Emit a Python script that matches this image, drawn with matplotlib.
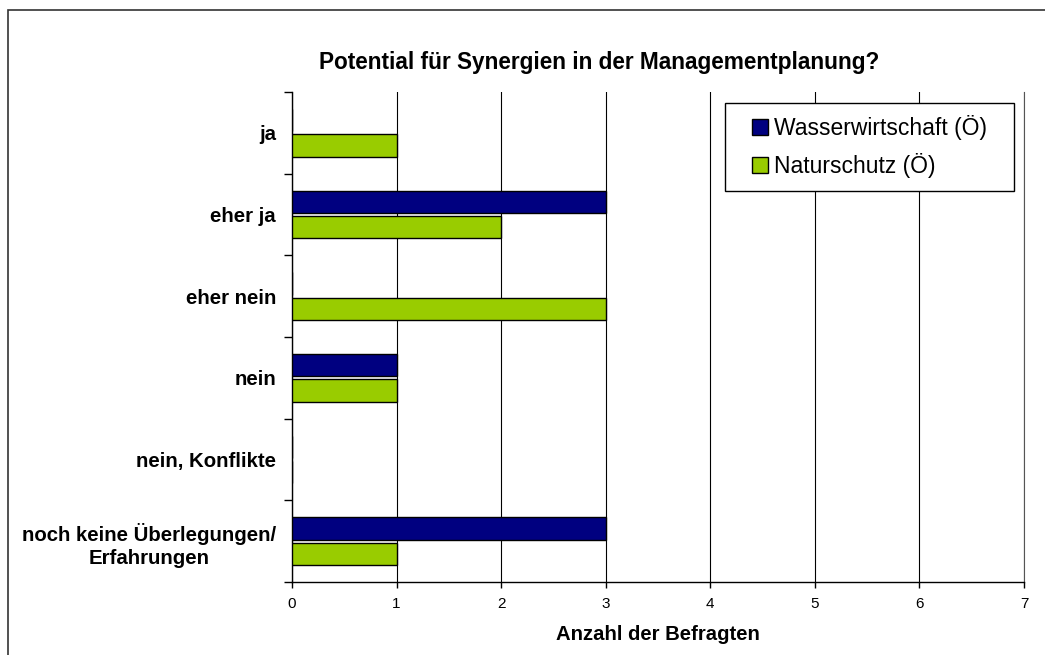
import matplotlib
matplotlib.use("Agg")
import matplotlib.pyplot as plt
from matplotlib.patches import Rectangle
import numpy as np

plt.rcParams['font.family'] = ['Liberation Sans', 'DejaVu Sans']

categories = ["ja", "eher ja", "eher nein", "nein", "nein, Konflikte",
              "noch keine Überlegungen/\nErfahrungen"]
wasser = [0, 3, 0, 1, 0, 3]
natur = [1, 2, 3, 1, 0, 1]
series_names = ["Wasserwirtschaft (Ö)", "Naturschutz (Ö)"]
colors = ["#000080", "#99CC00"]
xticks = [0, 1, 2, 3, 4, 5, 6, 7]

W, H = 1045, 655
fig = plt.figure(figsize=(W / 100, H / 100), dpi=100)
fig.patch.set_facecolor("white")

# outer chart frame (left and top visible)
fig.add_artist(Rectangle((8 / W, -0.1), 1.2, 1 - 10 / H + 0.1,
                         transform=fig.transFigure, fill=False,
                         edgecolor="#333333", linewidth=1.2))

ax = fig.add_axes([292 / W, 1 - 582 / H, (1024 - 292) / W, (582 - 92) / H])

y = np.arange(len(categories))
h = 0.27
off = 0.155
ax.barh(y - off, wasser, height=h, color=colors[0], edgecolor="black",
        linewidth=1.0, label=series_names[0], zorder=3)
ax.barh(y + off, natur, height=h, color=colors[1], edgecolor="black",
        linewidth=1.0, label=series_names[1], zorder=3)

ax.set_ylim(len(categories) - 0.5, -0.5)
ax.set_xlim(0, 7)
ax.set_xticks(xticks)
ax.set_xticklabels([str(t) for t in xticks], fontsize=11)

ax.set_yticks(np.arange(-0.5, len(categories), 1.0))
ax.set_yticklabels([])
ax.set_yticks(y, minor=True)
ax.set_yticklabels(categories, minor=True, fontsize=14.7, fontweight="bold",
                   multialignment="center", linespacing=1.3)
ax.tick_params(axis="y", which="minor", length=0, pad=11.5)
ax.tick_params(axis="y", which="major", length=6, width=1, color="black")
ax.tick_params(axis="x", length=4, width=1, pad=7)

ax.grid(axis="x", color="black", linewidth=0.8, zorder=0)
ax.spines["top"].set_visible(False)
ax.spines["right"].set_color("#555555")
ax.spines["right"].set_linewidth(0.8)
ax.spines["left"].set_linewidth(1.0)
ax.spines["bottom"].set_linewidth(1.0)

ax.set_xlabel("Anzahl der Befragten", fontsize=14.6, fontweight="bold", labelpad=10)

fig.text(599 / W, 1 - 63 / H, "Potential für Synergien in der Managementplanung?",
         ha="center", va="center", fontsize=16.3, fontweight="bold")

# legend frame
ax.add_patch(Rectangle((725 / W, 1 - 191 / H), (1014 - 725) / W, (191 - 103) / H,
                       transform=fig.transFigure, facecolor="white",
                       edgecolor="black", linewidth=1.0, zorder=8, clip_on=False))
leg = ax.legend(loc="upper left", bbox_to_anchor=(752 / W, 1 - 115 / H),
                bbox_transform=fig.transFigure, borderaxespad=0, borderpad=0,
                fontsize=16.5, frameon=False,
                handlelength=0.7, handleheight=0.7,
                handletextpad=0.25, labelspacing=0.55)
leg.set_zorder(9)

fig.savefig("out.png", dpi=100)
